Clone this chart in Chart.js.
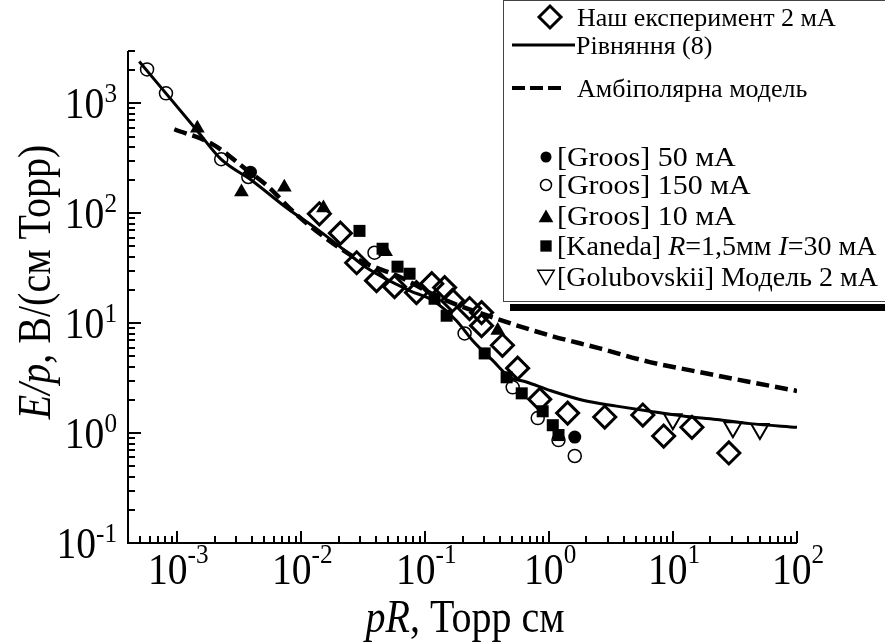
<!DOCTYPE html>
<html>
<head>
<meta charset="utf-8">
<script src="https://cdn.jsdelivr.net/npm/chart.js@4.4.0/dist/chart.umd.min.js"></script>
<style>
html, body { margin: 0; padding: 0; background: #fff; }
canvas { display: block; }
</style>
</head>
<body>
<canvas id="eChart" width="885" height="643"></canvas>
<script>
// ---- data (pR in Торр см, E/p in В/(см Торр)) ----
var ourX = [0.014, 0.0207, 0.028, 0.0405, 0.0566, 0.085, 0.113, 0.1435, 0.166, 0.228, 0.285, 0.285, 0.42, 0.557, 0.84, 1.41, 2.81, 5.7, 8.4, 14.2, 28.2];
var ourY = [99, 66, 35.5, 24.4, 21.5, 19.0, 22.9, 21.1, 16.1, 13.6, 12.5, 9.5, 6.3, 3.9, 2.03, 1.52, 1.40, 1.46, 0.94, 1.13, 0.66];

var groos50X = [0.00389, 1.61];
var groos50Y = [237, 0.92];

var groos150X = [0.00057, 0.00081, 0.00226, 0.00374, 0.039, 0.208, 0.508, 0.809, 1.19, 1.61];
var groos150Y = [2040, 1235, 311, 214, 43.8, 8.07, 2.61, 1.37, 0.864, 0.619];

var groos10X = [0.00145, 0.00329, 0.0073, 0.0151, 0.0479, 0.385];
var groos10Y = [594, 156, 173, 112, 44.7, 8.59];

var kanedaX = [0.0295, 0.0453, 0.0598, 0.0748, 0.119, 0.149, 0.302, 0.454, 0.601, 0.887, 1.07, 1.19];
var kanedaY = [69.2, 47.6, 32.7, 28.2, 16.7, 11.7, 5.31, 3.22, 2.30, 1.58, 1.18, 0.96];

var golubX = [9.96, 30.4, 50.2];
var golubY = [1.34, 1.13, 1.09];

// Рівняння (8)
var eqX = [0.000493, 0.00142, 0.00225, 0.00404, 0.00755, 0.014, 0.0215, 0.0334, 0.0748, 0.115, 0.178, 0.241, 0.35, 0.481, 0.656, 1.01, 1.87, 3.5, 6.49, 12.0, 22.4, 41.7, 100];
var eqY = [2408, 579, 311, 197, 113, 69.2, 47.6, 32.2, 19.8, 16.1, 10.6, 6.97, 4.59, 3.24, 2.92, 2.45, 1.99, 1.76, 1.58, 1.43, 1.33, 1.22, 1.13];

// Амбіполярна модель
var ambX = [0.000946, 0.00192, 0.00359, 0.00553, 0.0085, 0.0132, 0.03, 0.0621, 0.1306, 0.35, 1.01, 2.56, 6.49, 16.4, 41.7, 100];
var ambY = [582, 426, 251, 171, 105, 69.2, 37, 26.5, 17.1, 11.3, 7.74, 5.90, 4.43, 3.59, 2.92, 2.42];

// tick labels (powers of ten)
var xTickExp = ['-3', '-2', '-1', '0', '1', '2'];
var yTickExp = ['-1', '0', '1', '2', '3'];

var legendRows = [
        'Наш експеримент 2 мА',
        'Рівняння (8)',
        'Амбіполярна модель',
        '[Groos] 50 мА',
        '[Groos] 150 мА',
        '[Groos] 10 мА',
        '[Kaneda] ',
        '[Golubovskii] Модель 2 мА'
];

function pts(xs, ys) {
        return xs.map(function (x, i) { return { x: x, y: ys[i] }; });
}

var FONT = "'Liberation Serif', 'Times New Roman', serif";
Chart.defaults.font.family = FONT;

// draws a row of text pieces (different fonts), horizontally squeezed by sx
function drawRich(ctx, parts, x, y, align, sx) {
        var w = 0;
        parts.forEach(function (p) { ctx.font = p[1]; w += ctx.measureText(p[0]).width * sx; });
        var cx = align === 'right' ? x - w : (align === 'center' ? x - w / 2 : x);
        parts.forEach(function (p) {
                ctx.font = p[1];
                var pw = ctx.measureText(p[0]).width * sx;
                ctx.save();
                ctx.translate(cx, y + (p[2] || 0));
                ctx.scale(sx, 1);
                ctx.fillText(p[0], 0, 0);
                ctx.restore();
                cx += pw;
        });
}

var axesPlugin = {
        id: 'axesPlugin',
        afterDraw: function (chart) {
                var ctx = chart.ctx, a = chart.chartArea;
                var xs = chart.scales.x, ys = chart.scales.y;
                ctx.save();
                ctx.fillStyle = '#000';
                ctx.strokeStyle = '#000';
                ctx.textAlign = 'left';
                ctx.textBaseline = 'alphabetic';

                // axis lines
                ctx.lineWidth = 2;
                ctx.beginPath();
                ctx.moveTo(a.left, a.top);
                ctx.lineTo(a.left, a.bottom);
                ctx.lineTo(a.right, a.bottom);
                ctx.stroke();

                // inward ticks
                var d, m, v, p;
                ctx.beginPath();
                for (d = -4; d <= 2; d++) {
                        for (m = 1; m <= 9; m++) {
                                v = m * Math.pow(10, d);
                                if (v < xs.min * 1.01 || v > xs.max * 1.001) continue;
                                p = Math.round(xs.getPixelForValue(v));
                                ctx.moveTo(p, a.bottom);
                                ctx.lineTo(p, a.bottom - (m === 1 ? 12 : 7));
                        }
                }
                for (d = -1; d <= 3; d++) {
                        for (m = 1; m <= 9; m++) {
                                v = m * Math.pow(10, d);
                                if (v < ys.min * 0.999 || v > ys.max * 1.001) continue;
                                p = Math.round(ys.getPixelForValue(v));
                                ctx.moveTo(a.left, p);
                                ctx.lineTo(a.left + (m === 1 ? 13 : 7), p);
                        }
                }
                ctx.stroke();

                // tick labels 10^n
                var base = '44px ' + FONT, sup = '28px ' + FONT;
                xTickExp.forEach(function (e) {
                        var px = xs.getPixelForValue(Math.pow(10, +e));
                        drawRich(ctx, [['10', base, 0], [e, sup, -21]], px + 1, 584, 'center', 0.9);
                });
                yTickExp.forEach(function (e) {
                        var py = ys.getPixelForValue(Math.pow(10, +e));
                        drawRich(ctx, [['10', base, 0], [e, sup, -16]], 117, py + 15, 'right', 0.9);
                });

                // axis titles
                var tN = '46px ' + FONT, tI = 'italic 46px ' + FONT;
                drawRich(ctx, [['pR', tI], [', Торр см', tN]], 465, 632, 'center', 0.87);
                ctx.save();
                ctx.translate(50, 282);
                ctx.rotate(-Math.PI / 2);
                drawRich(ctx, [['E/p', tI], [', В/(см Торр)', tN]], 0, 0, 'center', 0.87);
                ctx.restore();

                // legend box
                ctx.fillStyle = '#fff';
                ctx.fillRect(503, 0, 382, 302);
                ctx.lineWidth = 1;
                ctx.strokeStyle = '#444';
                ctx.strokeRect(503.5, 0.5, 400, 301);
                ctx.fillStyle = '#000';
                ctx.fillRect(510, 304, 375, 7);

                var H = Chart.helpers;
                ctx.strokeStyle = '#000';
                ctx.fillStyle = 'rgba(0,0,0,0)';
                ctx.lineWidth = 3;
                H.drawPoint(ctx, { pointStyle: 'rectRot', radius: 11, rotation: 0, borderWidth: 3 }, 550, 17);

                ctx.lineWidth = 3;
                ctx.beginPath(); ctx.moveTo(512, 45); ctx.lineTo(575, 45); ctx.stroke();
                ctx.lineWidth = 4;
                ctx.setLineDash([13, 5]);
                ctx.beginPath(); ctx.moveTo(512, 88); ctx.lineTo(561, 88); ctx.stroke();
                ctx.setLineDash([]);

                ctx.fillStyle = '#000';
                H.drawPoint(ctx, { pointStyle: 'circle', radius: 5.5, rotation: 0, borderWidth: 0 }, 546, 157);
                ctx.fillStyle = 'rgba(0,0,0,0)';
                ctx.lineWidth = 1.5;
                H.drawPoint(ctx, { pointStyle: 'circle', radius: 5.5, rotation: 0, borderWidth: 1.5 }, 546, 185);
                ctx.fillStyle = '#000';
                H.drawPoint(ctx, { pointStyle: 'triangle', radius: 8.5, rotation: 0, borderWidth: 0 }, 546, 218);
                H.drawPoint(ctx, { pointStyle: 'rect', radius: 8, rotation: 0, borderWidth: 0 }, 546, 246);
                ctx.fillStyle = 'rgba(0,0,0,0)';
                ctx.lineWidth = 1.5;
                H.drawPoint(ctx, { pointStyle: 'triangle', radius: 9.5, rotation: 180, borderWidth: 1.5 }, 546, 275);

                ctx.fillStyle = '#000';
                var lN = '26px ' + FONT;
                var sN = '28px ' + FONT, sI = 'italic 28px ' + FONT;
                drawRich(ctx, [[legendRows[0], lN]], 577, 26, 'left', 1);
                drawRich(ctx, [[legendRows[1], lN]], 576, 54, 'left', 1);
                drawRich(ctx, [[legendRows[2], lN]], 577, 97, 'left', 1);
                drawRich(ctx, [[legendRows[3], sN]], 557, 166, 'left', 1.07);
                drawRich(ctx, [[legendRows[4], sN]], 557, 194, 'left', 1.07);
                drawRich(ctx, [[legendRows[5], sN]], 557, 225, 'left', 1.07);
                drawRich(ctx, [[legendRows[6], sN], ['R', sI], ['=1,5мм ', sN], ['I', sI], ['=30 мА', sN]], 557, 255, 'left', 1.0);
                drawRich(ctx, [[legendRows[7], sN]], 557, 286, 'left', 1.0);
                ctx.restore();
        }
};

var markerBase = { showLine: false, borderColor: '#000' };

var eData = {
        datasets: [
                Object.assign({ label: 'Наш експеримент 2 мА', data: pts(ourX, ourY), pointStyle: 'rectRot', pointRadius: 11, borderWidth: 3, backgroundColor: 'rgba(0,0,0,0)' }, markerBase),
                Object.assign({ label: '[Kaneda] R=1,5мм I=30 мА', data: pts(kanedaX, kanedaY), pointStyle: 'rect', pointRadius: 8.5, borderWidth: 0, backgroundColor: '#000' }, markerBase),
                Object.assign({ label: '[Groos] 50 мА', data: pts(groos50X, groos50Y), pointStyle: 'circle', pointRadius: 6.5, borderWidth: 0, backgroundColor: '#000' }, markerBase),
                Object.assign({ label: '[Groos] 150 мА', data: pts(groos150X, groos150Y), pointStyle: 'circle', pointRadius: 6.5, borderWidth: 1.5, backgroundColor: 'rgba(0,0,0,0)' }, markerBase),
                Object.assign({ label: '[Groos] 10 мА', data: pts(groos10X, groos10Y), pointStyle: 'triangle', pointRadius: 8.5, borderWidth: 0, backgroundColor: '#000' }, markerBase),
                Object.assign({ label: '[Golubovskii] Модель 2 мА', data: pts(golubX, golubY), pointStyle: 'triangle', pointRotation: 180, pointRadius: 10, borderWidth: 2, backgroundColor: 'rgba(0,0,0,0)' }, markerBase),
                {
                        label: 'Рівняння (8)',
                        data: pts(eqX, eqY),
                        showLine: true,
                        pointRadius: 0,
                        borderColor: '#000',
                        borderWidth: 3,
                        cubicInterpolationMode: 'monotone',
                        fill: false
                },
                {
                        label: 'Амбіполярна модель',
                        data: pts(ambX, ambY),
                        showLine: true,
                        pointRadius: 0,
                        borderColor: '#000',
                        borderWidth: 4.5,
                        borderDash: [13, 6],
                        cubicInterpolationMode: 'monotone',
                        fill: false
                }
        ]
};

var eConfig = {
        type: 'scatter',
        data: eData,
        options: {
                responsive: false,
                animation: false,
                devicePixelRatio: 1,
                layout: { padding: { left: 128, top: 51, right: 88, bottom: 100 } },
                plugins: { legend: { display: false }, tooltip: { enabled: false } },
                scales: {
                        x: {
                                type: 'logarithmic', min: 0.0004, max: 100,
                                grid: { display: false }, border: { display: false },
                                ticks: { display: false },
                                afterFit: function (s) { s.height = 0; }
                        },
                        y: {
                                type: 'logarithmic', min: 0.1, max: 3000,
                                grid: { display: false }, border: { display: false },
                                ticks: { display: false },
                                afterFit: function (s) { s.width = 0; }
                        }
                }
        },
        plugins: [axesPlugin]
};

var ctx = document.getElementById('eChart').getContext('2d');
var eChart = new Chart(ctx, eConfig);
</script>
</body>
</html>
